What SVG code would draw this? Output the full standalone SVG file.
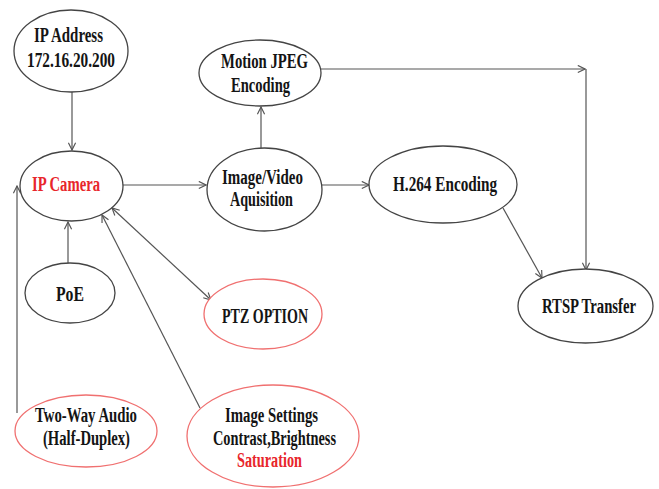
<svg xmlns="http://www.w3.org/2000/svg" width="659" height="489" viewBox="0 0 659 489">
  <defs>
    <marker id="arrow" viewBox="0 0 10 10" refX="9" refY="5" markerWidth="9" markerHeight="9" markerUnits="userSpaceOnUse" orient="auto-start-reverse">
      <path d="M1,1 L9,5 L1,9" fill="none" stroke="#555" stroke-width="1.3"/>
    </marker>
    <style>
      .node { fill: #fff; stroke: #444; stroke-width: 1.3; }
      .node.red { stroke: #f07070; }
      .lbl { font-family: "Liberation Serif", "Times New Roman", serif; font-weight: bold; font-size: 20px; fill: #141414; text-anchor: middle; }
      .lbl.red { fill: #e8262b; }
      .conn { fill: none; stroke: #555; stroke-width: 1.2; }
    </style>
  </defs>
  <rect width="659" height="489" fill="#fff"/>

  <!-- connectors -->
  <g id="connectors">
    <path class="conn" d="M72,92 L72,150" marker-end="url(#arrow)"/>
    <path class="conn" d="M68,263 L68,222" marker-end="url(#arrow)"/>
    <path class="conn" d="M17,413 L17,186" marker-end="url(#arrow)"/>
    <path class="conn" d="M200,408 L102,215" marker-end="url(#arrow)"/>
    <path class="conn" d="M112,208 L211,300" marker-start="url(#arrow)" marker-end="url(#arrow)"/>
    <path class="conn" d="M123,185 L206,185" marker-end="url(#arrow)"/>
    <path class="conn" d="M261,148 L261,107" marker-end="url(#arrow)"/>
    <path class="conn" d="M322,185 L369,185" marker-end="url(#arrow)"/>
    <path class="conn" d="M321,69 L585,69" marker-end="url(#arrow)"/>
    <path class="conn" d="M586,69 L586,270" marker-end="url(#arrow)"/>
    <path class="conn" d="M503,208 L542,278" marker-end="url(#arrow)"/>
  </g>

  <g id="ip-address">
    <ellipse class="node" cx="71" cy="51" rx="57" ry="41"/>
    <text class="lbl" x="68.5" y="42" textLength="69" lengthAdjust="spacingAndGlyphs">IP Address</text>
    <text class="lbl" x="71" y="67" textLength="88" lengthAdjust="spacingAndGlyphs">172.16.20.200</text>
  </g>

  <g id="ip-camera">
    <ellipse class="node" cx="71.5" cy="186" rx="51.5" ry="35"/>
    <text class="lbl red" x="66" y="191" textLength="68" lengthAdjust="spacingAndGlyphs">IP Camera</text>
  </g>

  <g id="motion-jpeg">
    <ellipse class="node" cx="260" cy="73" rx="61" ry="33"/>
    <text class="lbl" x="264.5" y="68" textLength="87" lengthAdjust="spacingAndGlyphs">Motion JPEG</text>
    <text class="lbl" x="260.5" y="92" textLength="59" lengthAdjust="spacingAndGlyphs">Encoding</text>
  </g>

  <g id="image-video">
    <ellipse class="node" cx="264.5" cy="189.5" rx="57.5" ry="41.5"/>
    <text class="lbl" x="262.5" y="184" textLength="81" lengthAdjust="spacingAndGlyphs">Image/Video</text>
    <text class="lbl" x="261.5" y="206" textLength="63" lengthAdjust="spacingAndGlyphs">Aquisition</text>
  </g>

  <g id="h264">
    <ellipse class="node" cx="443" cy="184.5" rx="74" ry="38.5"/>
    <text class="lbl" x="445" y="191" textLength="104" lengthAdjust="spacingAndGlyphs">H.264  Encoding</text>
  </g>

  <g id="rtsp">
    <ellipse class="node" cx="585.5" cy="306" rx="67.5" ry="37"/>
    <text class="lbl" x="589" y="313" textLength="94" lengthAdjust="spacingAndGlyphs">RTSP Transfer</text>
  </g>

  <g id="poe">
    <ellipse class="node" cx="70" cy="293" rx="45" ry="30"/>
    <text class="lbl" x="70" y="301" textLength="28" lengthAdjust="spacingAndGlyphs">PoE</text>
  </g>

  <g id="ptz">
    <ellipse class="node red" cx="263" cy="314" rx="59" ry="35"/>
    <text class="lbl" x="265" y="323" textLength="86" lengthAdjust="spacingAndGlyphs">PTZ OPTION</text>
  </g>

  <g id="two-way-audio">
    <ellipse class="node red" cx="86" cy="431" rx="71" ry="36"/>
    <text class="lbl" x="86" y="422" textLength="102" lengthAdjust="spacingAndGlyphs">Two-Way Audio</text>
    <text class="lbl" x="86.5" y="445" textLength="87" lengthAdjust="spacingAndGlyphs">(Half-Duplex)</text>
  </g>

  <g id="image-settings">
    <ellipse class="node red" cx="273" cy="436" rx="86" ry="51"/>
    <text class="lbl" x="271.5" y="422" textLength="93" lengthAdjust="spacingAndGlyphs">Image Settings</text>
    <text class="lbl" x="274.5" y="445" textLength="123" lengthAdjust="spacingAndGlyphs">Contrast,Brightness</text>
    <text class="lbl red" x="269.5" y="467" textLength="65" lengthAdjust="spacingAndGlyphs">Saturation</text>
  </g>
</svg>
